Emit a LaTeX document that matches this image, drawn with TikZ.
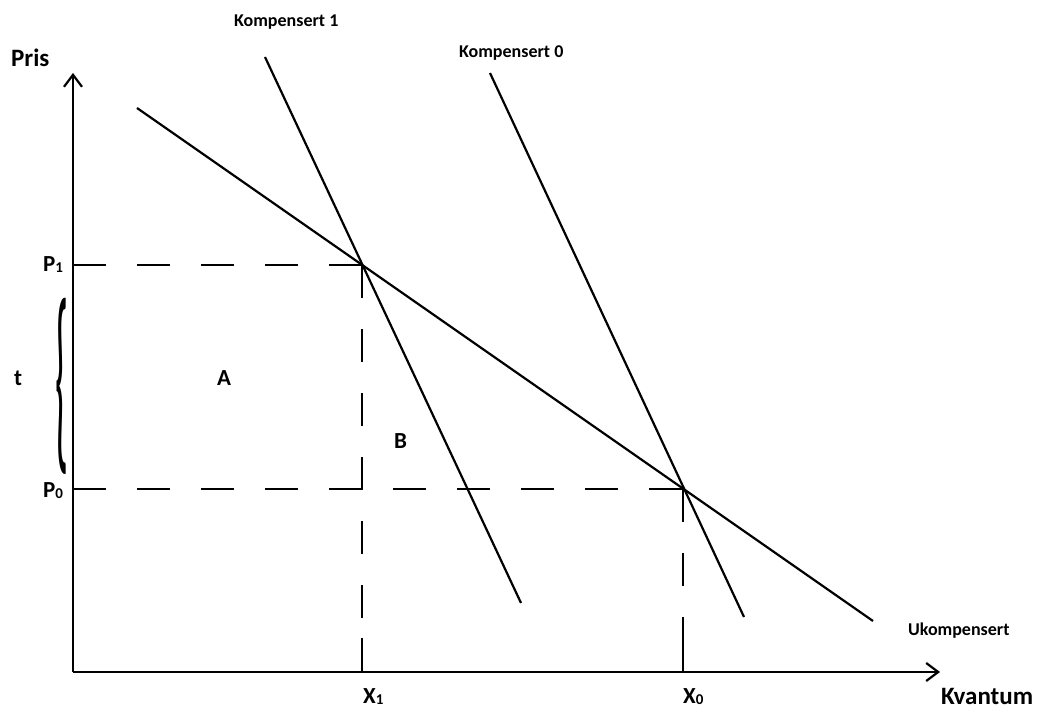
\documentclass[tikz,border=0pt]{standalone}
\usepackage{fontspec}
\setmainfont{Carlito}
\usetikzlibrary{arrows.meta}
\newcommand{\subd}[1]{{\fontsize{15}{15}\selectfont\raisebox{-1pt}{#1}}}
\begin{document}
\begin{tikzpicture}[x=1pt,y=-1pt,line width=2.2pt,line cap=butt,
  curve/.style={line width=2.2pt},
  guide/.style={line width=2.2pt,dash pattern=on 33pt off 31pt},
  axis/.style={line width=2.2pt,-{Straight Barb[length=12pt,width=18pt,line width=2.2pt]}},
  big/.style={font=\bfseries\fontsize{25}{25}\selectfont,anchor=base west,inner sep=0},
  lab/.style={font=\bfseries\fontsize{23}{23}\selectfont,anchor=base west,inner sep=0},
  small/.style={font=\bfseries\fontsize{18}{18}\selectfont,anchor=base west,inner sep=0}]
\useasboundingbox (0,0) rectangle (1046,708);
% coordinates
\coordinate (O) at (73,672);
\coordinate (ytip) at (73,73);
\coordinate (xtip) at (940,672);
\coordinate (E1) at (362,265);
\coordinate (E0) at (683,489);
\coordinate (P1a) at (73,265);
\coordinate (P0a) at (73,489);
\coordinate (X1a) at (362,672);
\coordinate (X0a) at (683,672);
\coordinate (U1) at (137,108);
\coordinate (U2) at (873,621);
\coordinate (K1a) at (265,57);
\coordinate (K1b) at (521,603);
\coordinate (K0a) at (490,73);
\coordinate (K0b) at (744,617);
% axes
\draw[axis] (O) -- (ytip);
\draw[axis] (O) -- (xtip);
% guides
\draw[guide] (P1a) -- (E1);
\draw[guide,dash pattern=on 33pt off 31pt on 33pt off 31pt on 33pt off 31pt on 33pt off 31pt on 33pt off 31pt on 33pt off 20pt on 60pt off 10pt] (E1) -- (X1a);
\draw[guide] (P0a) -- (E0);
\draw[guide,dash pattern=on 33pt off 31pt on 33pt off 31pt on 60pt off 10pt] (E0) -- (X0a);
% curves
\draw[curve] (U1) -- (U2);
\draw[curve] (K1a) -- (K1b);
\draw[curve] (K0a) -- (K0b);
% brace
\node[inner sep=0] (brace) at (62,386) {\resizebox*{13pt}{176pt}{\{}};
% labels
\node[big] (pris) at (10,67) {Pris};
\node[big] (kvantum) at (940,704) {Kvantum};
\node[small] (k1) at (233,27) {Kompensert 1};
\node[small] (k0) at (458,58) {Kompensert 0};
\node[small] (uk) at (907,635) {Ukompensert};
\node[lab] (p1) at (42,272) {P\subd{1}};
\node[lab] (p0) at (42,497) {P\subd{0}};
\node[lab] (t) at (13,385) {t};
\node[lab] (A) at (216,385) {A};
\node[lab] (B) at (393,448) {B};
\node[lab] (x1) at (362,703) {X\subd{1}};
\node[lab] (x0) at (682,703) {X\subd{0}};
\end{tikzpicture}
\end{document}
